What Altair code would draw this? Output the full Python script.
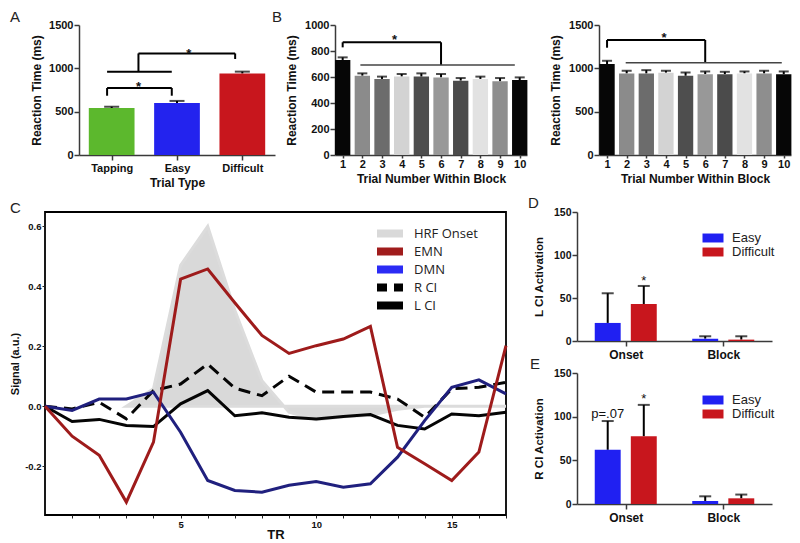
import altair as alt
import pandas as pd

FONT = "Liberation Sans"
INK = "#111111"
AXC = "#3a3a3a"

# ---------------- Panel A ----------------
a_cats = ["Tapping", "Easy", "Difficult"]
a_mean = [542, 600, 940]
a_upper = [557, 624, 962]
a_colors = ["#5cb82d", "#2323ee", "#c8161d"]
a_br_x1 = [0.43, 0.43, 1.42, 0.43, 0.91, 0.91, 2.39]
a_br_x2 = [0.43, 1.42, 1.42, 1.42, 0.91, 2.39, 2.39]
a_br_y1 = [684, 773, 684, 961, 961, 1172, 1108]
a_br_y2 = [773, 773, 773, 961, 1172, 1172, 1172]
a_star_x = [0.91, 1.68]
a_star_y = [819, 1203]

# ---------------- Panel B ----------------
b_trials = list(range(1, 11))
b_fills = ["#060606", "#8b8b8b", "#6c6c6c", "#d3d3d3", "#4e4e4e",
           "#989898", "#4b4b4b", "#e2e2e2", "#8e8e8e", "#060606"]
b1_mean = [731, 610, 585, 603, 603, 597, 572, 585, 567, 577]
b1_upper = [751, 628, 603, 623, 628, 623, 592, 603, 592, 597]
b1_br_x1 = [1, 1, 6]
b1_br_x2 = [1, 6, 6]
b1_br_y1 = [828, 867, 692]
b1_br_y2 = [867, 867, 867]
b1_line_x = [1.9, 9.75]
b1_line_y = [692, 692]
b1_star_x = [3.64]
b1_star_y = [905]

b2_mean = [1049, 941, 941, 949, 914, 933, 933, 941, 941, 933]
b2_upper = [1087, 972, 979, 972, 952, 964, 960, 964, 972, 964]
b2_br_x1 = [1, 1, 6]
b2_br_x2 = [1, 6, 6]
b2_br_y1 = [1238, 1327, 1065]
b2_br_y2 = [1327, 1327, 1327]
b2_line_x = [1.95, 9.9]
b2_line_y = [1065, 1065]
b2_star_x = [3.9]
b2_star_y = [1381]

# ---------------- Panel C ----------------
c_tr = list(range(18))
c_emn = [0, -0.10, -0.164, -0.32, -0.12, 0.424, 0.458, 0.345, 0.236, 0.176,
         0.202, 0.224, 0.266, -0.137, -0.192, -0.248, -0.153, 0.202]
c_dmn = [0, -0.014, 0.024, 0.024, 0.047, -0.087, -0.248, -0.281, -0.287, -0.264,
         -0.251, -0.27, -0.259, -0.17, -0.048, 0.063, 0.088, 0.041]
c_rci = [0, -0.009, 0.013, -0.042, 0.052, 0.074, 0.141, 0.06, 0.035, 0.1,
         0.047, 0.047, 0.047, 0.024, -0.037, 0.058, 0.063, 0.08]
c_lci = [0, -0.051, -0.044, -0.064, -0.068, 0.008, 0.052, -0.032, -0.022, -0.037,
         -0.043, -0.034, -0.028, -0.064, -0.076, -0.026, -0.032, -0.02]
c_hrf_tr = list(range(3, 18))
c_hrf = [0, 0.058, 0.47, 0.60, 0.32, 0.085, -0.02, -0.045, -0.035, -0.03,
         -0.01, 0, 0, 0, 0]
c_series = ["HRF Onset", "EMN", "DMN", "R CI", "L CI"]
c_legend_colors = ["#d9d9d9", "#a01c1c", "#2b2bf5", "#000000", "#000000"]

# ---------------- Panels D / E ----------------
de_groups = ["Onset", "Block"]
de_conds = ["Easy", "Difficult"]
de_colors = ["#2020f2", "#c8161d"]
d_easy = [21, 2.7]
d_easy_up = [55.5, 5.5]
d_diff = [43, 1.6]
d_diff_up = [64, 5.5]
d_notes = ["*"]
d_note_cond = ["Difficult"]
d_note_y = [70]
e_easy = [62, 3.5]
e_easy_up = [95, 8.8]
e_diff = [77.5, 6.5]
e_diff_up = [113.5, 10.8]
e_notes = ["p=.07", "*"]
e_note_cond = ["Easy", "Difficult"]
e_note_y = [103, 120]


def axis(values, title, **kw):
    d = dict(values=values, grid=False, domainColor=AXC, domainWidth=1.5,
             tickColor=AXC, tickWidth=1.5, tickSize=5, labelFont=FONT,
             labelFontWeight="bold", labelFontSize=11, labelColor=INK,
             labelPadding=1, titleFont=FONT, titleFontWeight="bold",
             titleFontSize=12, titleColor=INK, titlePadding=5, title=title)
    d.update(kw)
    return alt.Axis(**d)


def letter(t, dx, off=-4):
    return alt.TitleParams(text=t, anchor="start", frame="group", dx=dx,
                           offset=off, font=FONT, fontSize=15,
                           fontWeight="normal", color="#222222")


def spacer(w, h):
    return alt.Chart(pd.DataFrame({"s": [0]})).mark_point(opacity=0).properties(width=w, height=h)


def bar_panel(df, xfn, yfn, color_scale, hw, capw, segs, line, stars, w, h, title=None):
    bars = alt.Chart(df).transform_calculate(
        x0=f"datum.pos - {hw}", x1=f"datum.pos + {hw}", zero="0"
    ).mark_bar().encode(
        x=xfn("x0"), x2="x1:Q", y=yfn("mean"), y2="zero:Q",
        color=alt.Color("cat:N", scale=color_scale, legend=None))
    err = alt.Chart(df).mark_rule(color="black", strokeWidth=2).encode(
        x=xfn("pos"), y=yfn("mean"), y2="upper:Q")
    cap = alt.Chart(df).mark_tick(orient="horizontal", color="black",
                                  thickness=2, size=capw).encode(
        x=xfn("pos"), y=yfn("upper"))
    br = alt.Chart(segs).mark_rule(color="black", strokeWidth=2).encode(
        x=xfn("x1"), x2="x2:Q", y=yfn("y1"), y2="y2:Q")
    layers = [err, cap, bars, br]
    if line is not None:
        layers.append(alt.Chart(line).mark_line(color="#444444", strokeWidth=1.6).encode(
            x=xfn("x"), y=yfn("y")))
    st = alt.Chart(stars).mark_text(font=FONT, fontSize=13, fontWeight="bold",
                                    color=INK, dy=3).encode(
        x=xfn("x"), y=yfn("y"), text="t:N")
    layers.append(st)
    ch = alt.layer(*layers).properties(width=w, height=h)
    if title is not None:
        ch = ch.properties(title=title)
    return ch


# ---------- A ----------
dfA = pd.DataFrame({"cat": a_cats, "mean": a_mean, "upper": a_upper})
dfA["pos"] = [i + 0.5 for i in range(len(a_cats))]
segA = pd.DataFrame({"x1": a_br_x1, "x2": a_br_x2, "y1": a_br_y1, "y2": a_br_y2})
starA = pd.DataFrame({"x": a_star_x, "y": a_star_y, "t": ["*"] * len(a_star_x)})
axA_x = axis([0.5, 1.5, 2.5], "Trial Type",
             labelExpr="['Tapping','Easy','Difficult'][floor(datum.value)]",
             labelPadding=2, titlePadding=4)
axA_y = axis([0, 500, 1000, 1500], "Reaction Time (ms)", format="d")


def xA(f):
    return alt.X(f"{f}:Q", scale=alt.Scale(domain=[0, 3], nice=False, zero=False), axis=axA_x)


def yA(f):
    return alt.Y(f"{f}:Q", scale=alt.Scale(domain=[0, 1500], nice=False), axis=axA_y)


chartA = bar_panel(dfA, xA, yA, alt.Scale(domain=a_cats, range=a_colors), 0.35, 15,
                   segA, None, starA, 196, 130, letter("A", -69, -6))


# ---------- B ----------
def make_b(mean, upper, bx1, bx2, by1, by2, lx, ly, sx, sy, yvals, ymax, dom, title):
    df = pd.DataFrame({"cat": b_trials, "mean": mean, "upper": upper})
    df["pos"] = b_trials
    segs = pd.DataFrame({"x1": bx1, "x2": bx2, "y1": by1, "y2": by2})
    line = pd.DataFrame({"x": lx, "y": ly})
    stars = pd.DataFrame({"x": sx, "y": sy, "t": ["*"] * len(sx)})
    ax_x = axis(b_trials, "Trial Number Within Block", tickSize=3, labelPadding=0,
                titlePadding=4)
    ax_y = axis(yvals, "Reaction Time (ms)", titlePadding=6, format="d")

    def xf(f):
        return alt.X(f"{f}:Q", scale=alt.Scale(domain=dom, nice=False, zero=False), axis=ax_x)

    def yf(f):
        return alt.Y(f"{f}:Q", scale=alt.Scale(domain=[0, ymax], nice=False), axis=ax_y)

    return bar_panel(df, xf, yf, alt.Scale(domain=b_trials, range=b_fills), 0.39, 10,
                     segs, line, stars, 192, 130, title)


chartB1 = make_b(b1_mean, b1_upper, b1_br_x1, b1_br_x2, b1_br_y1, b1_br_y2,
                 b1_line_x, b1_line_y, b1_star_x, b1_star_y,
                 [0, 200, 400, 600, 800, 1000], 1000, [0.61, 10.37], letter("B", -63, -6))
chartB2 = make_b(b2_mean, b2_upper, b2_br_x1, b2_br_x2, b2_br_y1, b2_br_y2,
                 b2_line_x, b2_line_y, b2_star_x, b2_star_y,
                 [0, 500, 1000, 1500], 1500, [0.59, 10.37], None)

# ---------- C ----------
dfC = pd.DataFrame({"tr": c_tr, "EMN": c_emn, "DMN": c_dmn, "R CI": c_rci, "L CI": c_lci})
dfL = dfC.melt(id_vars="tr", var_name="series", value_name="sig")
dfH = pd.DataFrame({"tr": c_hrf_tr, "sig": c_hrf})

axC_x = alt.Axis(values=list(range(1, 18)), title="TR", grid=False, domain=False,
                 labelExpr="datum.value % 5 == 0 ? datum.value : ''",
                 tickColor="#222", tickSize=3, tickWidth=1, labelFont=FONT,
                 labelFontWeight="bold", labelFontSize=9.5, labelColor=INK,
                 labelPadding=1, titleFont=FONT, titleFontWeight="bold",
                 titleFontSize=13, titleColor=INK, titlePadding=0)
axC_y = alt.Axis(values=[-0.2, 0, 0.2, 0.4, 0.6], title="Signal (a.u.)", grid=False,
                 domain=False, labelExpr="replace(format(datum.value, '.1f'), '\u2212', '-')",
                 tickColor="#222", tickSize=3, tickWidth=1, labelFont=FONT,
                 labelFontWeight="bold", labelFontSize=9.5, labelColor=INK,
                 labelPadding=1, titleFont=FONT, titleFontWeight="bold",
                 titleFontSize=11, titleColor=INK, titlePadding=4)
xC = alt.X("tr:Q", scale=alt.Scale(domain=[0, 17], nice=False, zero=False), axis=axC_x)
yC = alt.Y("sig:Q", scale=alt.Scale(domain=[-0.363, 0.648], nice=False, zero=False), axis=axC_y)

hrf = alt.Chart(dfH).transform_calculate(base="0").mark_area(
    color="#d9d9d9", stroke="#dcdcdc", strokeWidth=3).encode(x=xC, y=yC, y2="base:Q")


def cline(name, color, dash=None):
    kw = dict(color=color, strokeWidth=3)
    if dash is not None:
        kw["strokeDash"] = dash
    return alt.Chart(dfL).transform_filter(alt.datum.series == name).mark_line(**kw).encode(x=xC, y=yC)


leg_c = dict(orient="none", legendX=332, legendY=13.5, title=None,
             symbolType="M-1.75,0H1.75", symbolSize=256, symbolStrokeWidth=8,
             symbolOpacity=1, labelFont="Open Sans", labelFontSize=13,
             labelColor="#222", labelOffset=13, rowPadding=2, clipHeight=16, padding=0)
legend_layer = alt.Chart(dfL).mark_line(strokeWidth=0).encode(
    x=xC, y=yC,
    color=alt.Color("series:N", scale=alt.Scale(domain=c_series, range=c_legend_colors),
                    legend=alt.Legend(**leg_c)),
    strokeDash=alt.StrokeDash("series:N", scale=alt.Scale(
        domain=c_series, range=[[1, 0], [1, 0], [1, 0], [12, 7], [1, 0]]),
        legend=alt.Legend(**leg_c)))

chartC = alt.layer(
    hrf,
    cline("L CI", "#050505"),
    cline("R CI", "#050505", [12, 7]),
    cline("DMN", "#20207e"),
    cline("EMN", "#9e1b1b"),
    legend_layer,
).properties(width=461, height=303, title=letter("C", -35),
             view=alt.ViewBackground(stroke="black", strokeWidth=1.8))


# ---------- D / E ----------
def ci_panel(easy, easy_up, diff, diff_up, notes, note_cond, note_y, ylabel, let, h, legY):
    rows = []
    for gi, g in enumerate(de_groups):
        rows.append({"g": gi, "cond": "Easy", "mean": easy[gi], "upper": easy_up[gi]})
        rows.append({"g": gi, "cond": "Difficult", "mean": diff[gi], "upper": diff_up[gi]})
    df = pd.DataFrame(rows)
    nd = pd.DataFrame({"t": notes, "cond": note_cond, "y": note_y, "g": [0] * len(notes)})
    poscalc = "datum.g + 0.5 + (datum.cond == 'Easy' ? -0.185 : 0.185)"
    ax_x = axis([0.5, 1.5], None, labelExpr="datum.value < 1 ? 'Onset' : 'Block'",
                labelFontSize=12, labelPadding=3)
    ax_y = axis([0, 50, 100, 150], ylabel, labelFontSize=10.5, titleFontSize=11.5,
                titlePadding=9)

    def xf(f):
        return alt.X(f"{f}:Q", scale=alt.Scale(domain=[0, 2], nice=False, zero=False), axis=ax_x)

    def yf(f):
        return alt.Y(f"{f}:Q", scale=alt.Scale(domain=[0, 150], nice=False), axis=ax_y)

    base = alt.Chart(df).transform_calculate(pos=poscalc)
    bars = base.transform_calculate(x0="datum.pos - 0.133", x1="datum.pos + 0.133",
                                    zero="0").mark_bar().encode(
        x=xf("x0"), x2="x1:Q", y=yf("mean"), y2="zero:Q",
        color=alt.Color("cond:N", scale=alt.Scale(domain=de_conds, range=de_colors),
                        legend=alt.Legend(orient="none", legendX=129, legendY=legY, title=None,
                                          symbolType="M-1.5,-0.64H1.5V0.64H-1.5Z",
                                          symbolSize=196, symbolStrokeWidth=0,
                                          labelFont=FONT, labelFontSize=13, labelColor="#222",
                                          labelOffset=12, rowPadding=-1.5, padding=0)))
    err = base.mark_rule(color="black", strokeWidth=2).encode(x=xf("pos"), y=yf("mean"), y2="upper:Q")
    cap = base.mark_tick(orient="horizontal", color="black", thickness=2, size=12).encode(
        x=xf("pos"), y=yf("upper"))
    txt = alt.Chart(nd).transform_calculate(pos=poscalc).mark_text(
        font=FONT, fontSize=13, color=INK).encode(x=xf("pos"), y=yf("y"), text="t:N")
    return alt.layer(err, cap, bars, txt).properties(width=195, height=h, title=let)


chartD = ci_panel(d_easy, d_easy_up, d_diff, d_diff_up, d_notes, d_note_cond, d_note_y,
                  "L CI Activation", letter("D", -49), 129, 19)
chartE = ci_panel(e_easy, e_easy_up, e_diff, e_diff_up, e_notes, e_note_cond, e_note_y,
                  "R CI Activation", letter("E", -47), 131, 20)


def indep(c):
    return c.resolve_scale(color="independent", strokeDash="independent").resolve_legend(
        color="independent", strokeDash="independent")


row1 = indep(alt.hconcat(spacer(34, 130), chartA, spacer(60, 130), chartB1, spacer(72, 130),
                         chartB2, spacing=0, bounds="flush"))
DE = indep(alt.vconcat(chartD, chartE, spacing=32, bounds="flush"))
row2 = indep(alt.hconcat(chartC, DE, spacing=15))

chart = indep(alt.vconcat(row1, row2, spacing=8)).properties(
    padding={"top": 2, "left": 0, "right": 0, "bottom": 0},
    background="white").configure_view(stroke=None)

chart.save("out.html", embed_options={"renderer": "svg", "actions": False})
